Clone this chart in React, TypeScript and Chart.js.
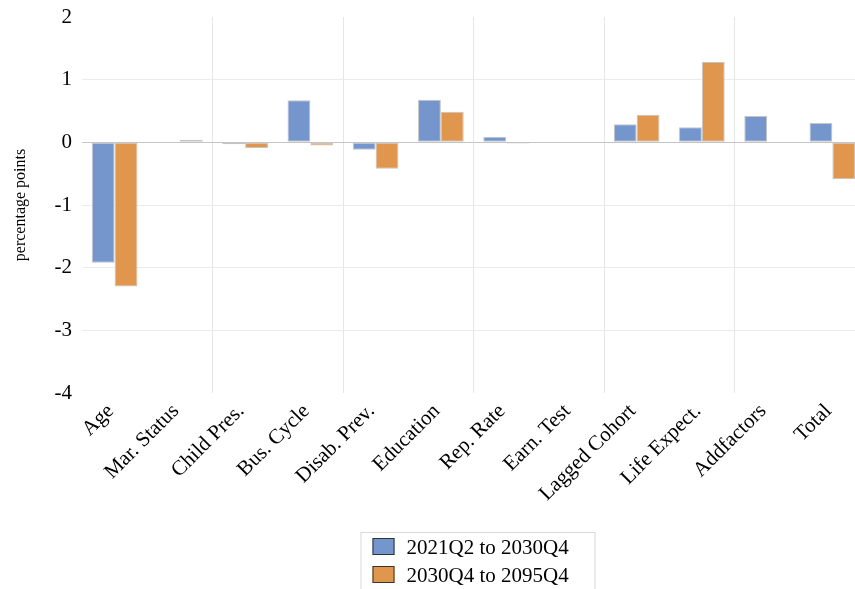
import React, { useEffect, useRef } from "react";
import { Chart, registerables } from "chart.js";

Chart.register(...registerables);

const categories = [
  "Age",
  "Mar. Status",
  "Child Pres.",
  "Bus. Cycle",
  "Disab. Prev.",
  "Education",
  "Rep. Rate",
  "Earn. Test",
  "Lagged Cohort",
  "Life Expect.",
  "Addfactors",
  "Total",
];
const seriesLabels = ["2021Q2 to 2030Q4", "2030Q4 to 2095Q4"];
const series1 = [-1.92, -0.01, -0.03, 0.67, -0.12, 0.68, 0.09, -0.01, 0.29, 0.24, 0.42, 0.31];
const series2 = [-2.3, 0.04, -0.09, -0.05, -0.42, 0.49, -0.02, 0.0, 0.44, 1.28, 0.01, -0.59];
const yTicks = [-4, -3, -2, -1, 0, 1, 2];
const yTitle = "percentage points";

const BLUE = "rgb(116,150,205)";
const ORANGE = "rgb(224,150,76)";
const FONT = "'Liberation Serif', 'Times New Roman', serif";

const boxLegend = {
  id: "boxLegend",
  afterDraw(chart: any) {
    const { ctx, chartArea } = chart;
    const cx = (chartArea.left + chartArea.right) / 2;
    const left = cx - 113;
    const top = 532;
    ctx.save();
    ctx.strokeStyle = "#d9d9d9";
    ctx.lineWidth = 1;
    ctx.strokeRect(left + 0.5, top + 0.5, 234, 80);
    const colors = [BLUE, ORANGE];
    ctx.font = `21px ${FONT}`;
    ctx.textBaseline = "middle";
    ctx.textAlign = "left";
    seriesLabels.forEach((lab, i) => {
      const y = top + 6 + i * 28;
      ctx.fillStyle = colors[i];
      ctx.fillRect(left + 12, y, 22, 17);
      ctx.strokeStyle = "#333";
      ctx.strokeRect(left + 12.5, y + 0.5, 21, 16);
      ctx.fillStyle = "#000";
      ctx.fillText(lab, left + 46, y + 10);
    });
    ctx.restore();
  },
};

export default function App() {
  const ref = useRef<HTMLCanvasElement | null>(null);
  useEffect(() => {
    if (!ref.current) return;
    const chart = new Chart(ref.current, {
      type: "bar",
      data: {
        labels: categories,
        datasets: [
          {
            label: seriesLabels[0],
            data: series1,
            backgroundColor: BLUE,
            borderColor: "#c4c4c4",
            borderWidth: 1,
            borderSkipped: false,
          },
          {
            label: seriesLabels[1],
            data: series2,
            backgroundColor: ORANGE,
            borderColor: "#c4c4c4",
            borderWidth: 1,
            borderSkipped: false,
          },
        ],
      },
      options: {
        animation: false,
        responsive: false,
        events: [],
        layout: { padding: { left: 0, right: 10, top: 17, bottom: 66 } },
        datasets: { bar: { categoryPercentage: 0.7, barPercentage: 1 } },
        plugins: {
          legend: { display: false },
          tooltip: { enabled: false },
        },
        scales: {
          x: {
            grid: {
              offset: true,
              drawTicks: false,
              color: (c: any) =>
                typeof c.index === "number" && c.index > 0 && c.index % 2 === 0 ? "#e6e6e6" : "transparent",
            },
            border: { display: false },
            ticks: {
              autoSkip: false,
              maxRotation: 45,
              minRotation: 45,
              padding: 6,
              labelOffset: -4,
              color: "#000",
              font: { family: FONT, size: 21 },
            },
            afterFit: (s: any) => {
              s.height = 130;
              s.paddingLeft = 0;
              s.paddingRight = 0;
            },
          },
          y: {
            min: -4,
            max: 2,
            afterBuildTicks: (s: any) => {
              s.ticks = yTicks.map((v) => ({ value: v }));
            },
            grid: {
              drawTicks: false,
              color: (c: any) => {
                const v = c.tick ? c.tick.value : null;
                if (v === 0) return "#c4c4c4";
                if (v === 2 || v === -4) return "transparent";
                return "#ebebeb";
              },
            },
            border: { display: false },
            ticks: {
              padding: 10,
              color: "#000",
              font: { family: FONT, size: 21 },
            },
            title: {
              display: true,
              text: yTitle,
              color: "#000",
              font: { family: FONT, size: 16 },
              padding: { top: 11, bottom: 0 },
            },
            afterFit: (s: any) => {
              s.width = 82;
              s.paddingTop = 0;
              s.paddingBottom = 0;
            },
          },
        },
      },
      plugins: [boxLegend],
    });
    return () => chart.destroy();
  }, []);
  return (
    <div style={{ position: "fixed", left: 0, top: 0, width: 855, height: 589, overflow: "hidden", background: "#fff" }}>
      <canvas ref={ref} width={875} height={589} style={{ display: "block" }} />
    </div>
  );
}
